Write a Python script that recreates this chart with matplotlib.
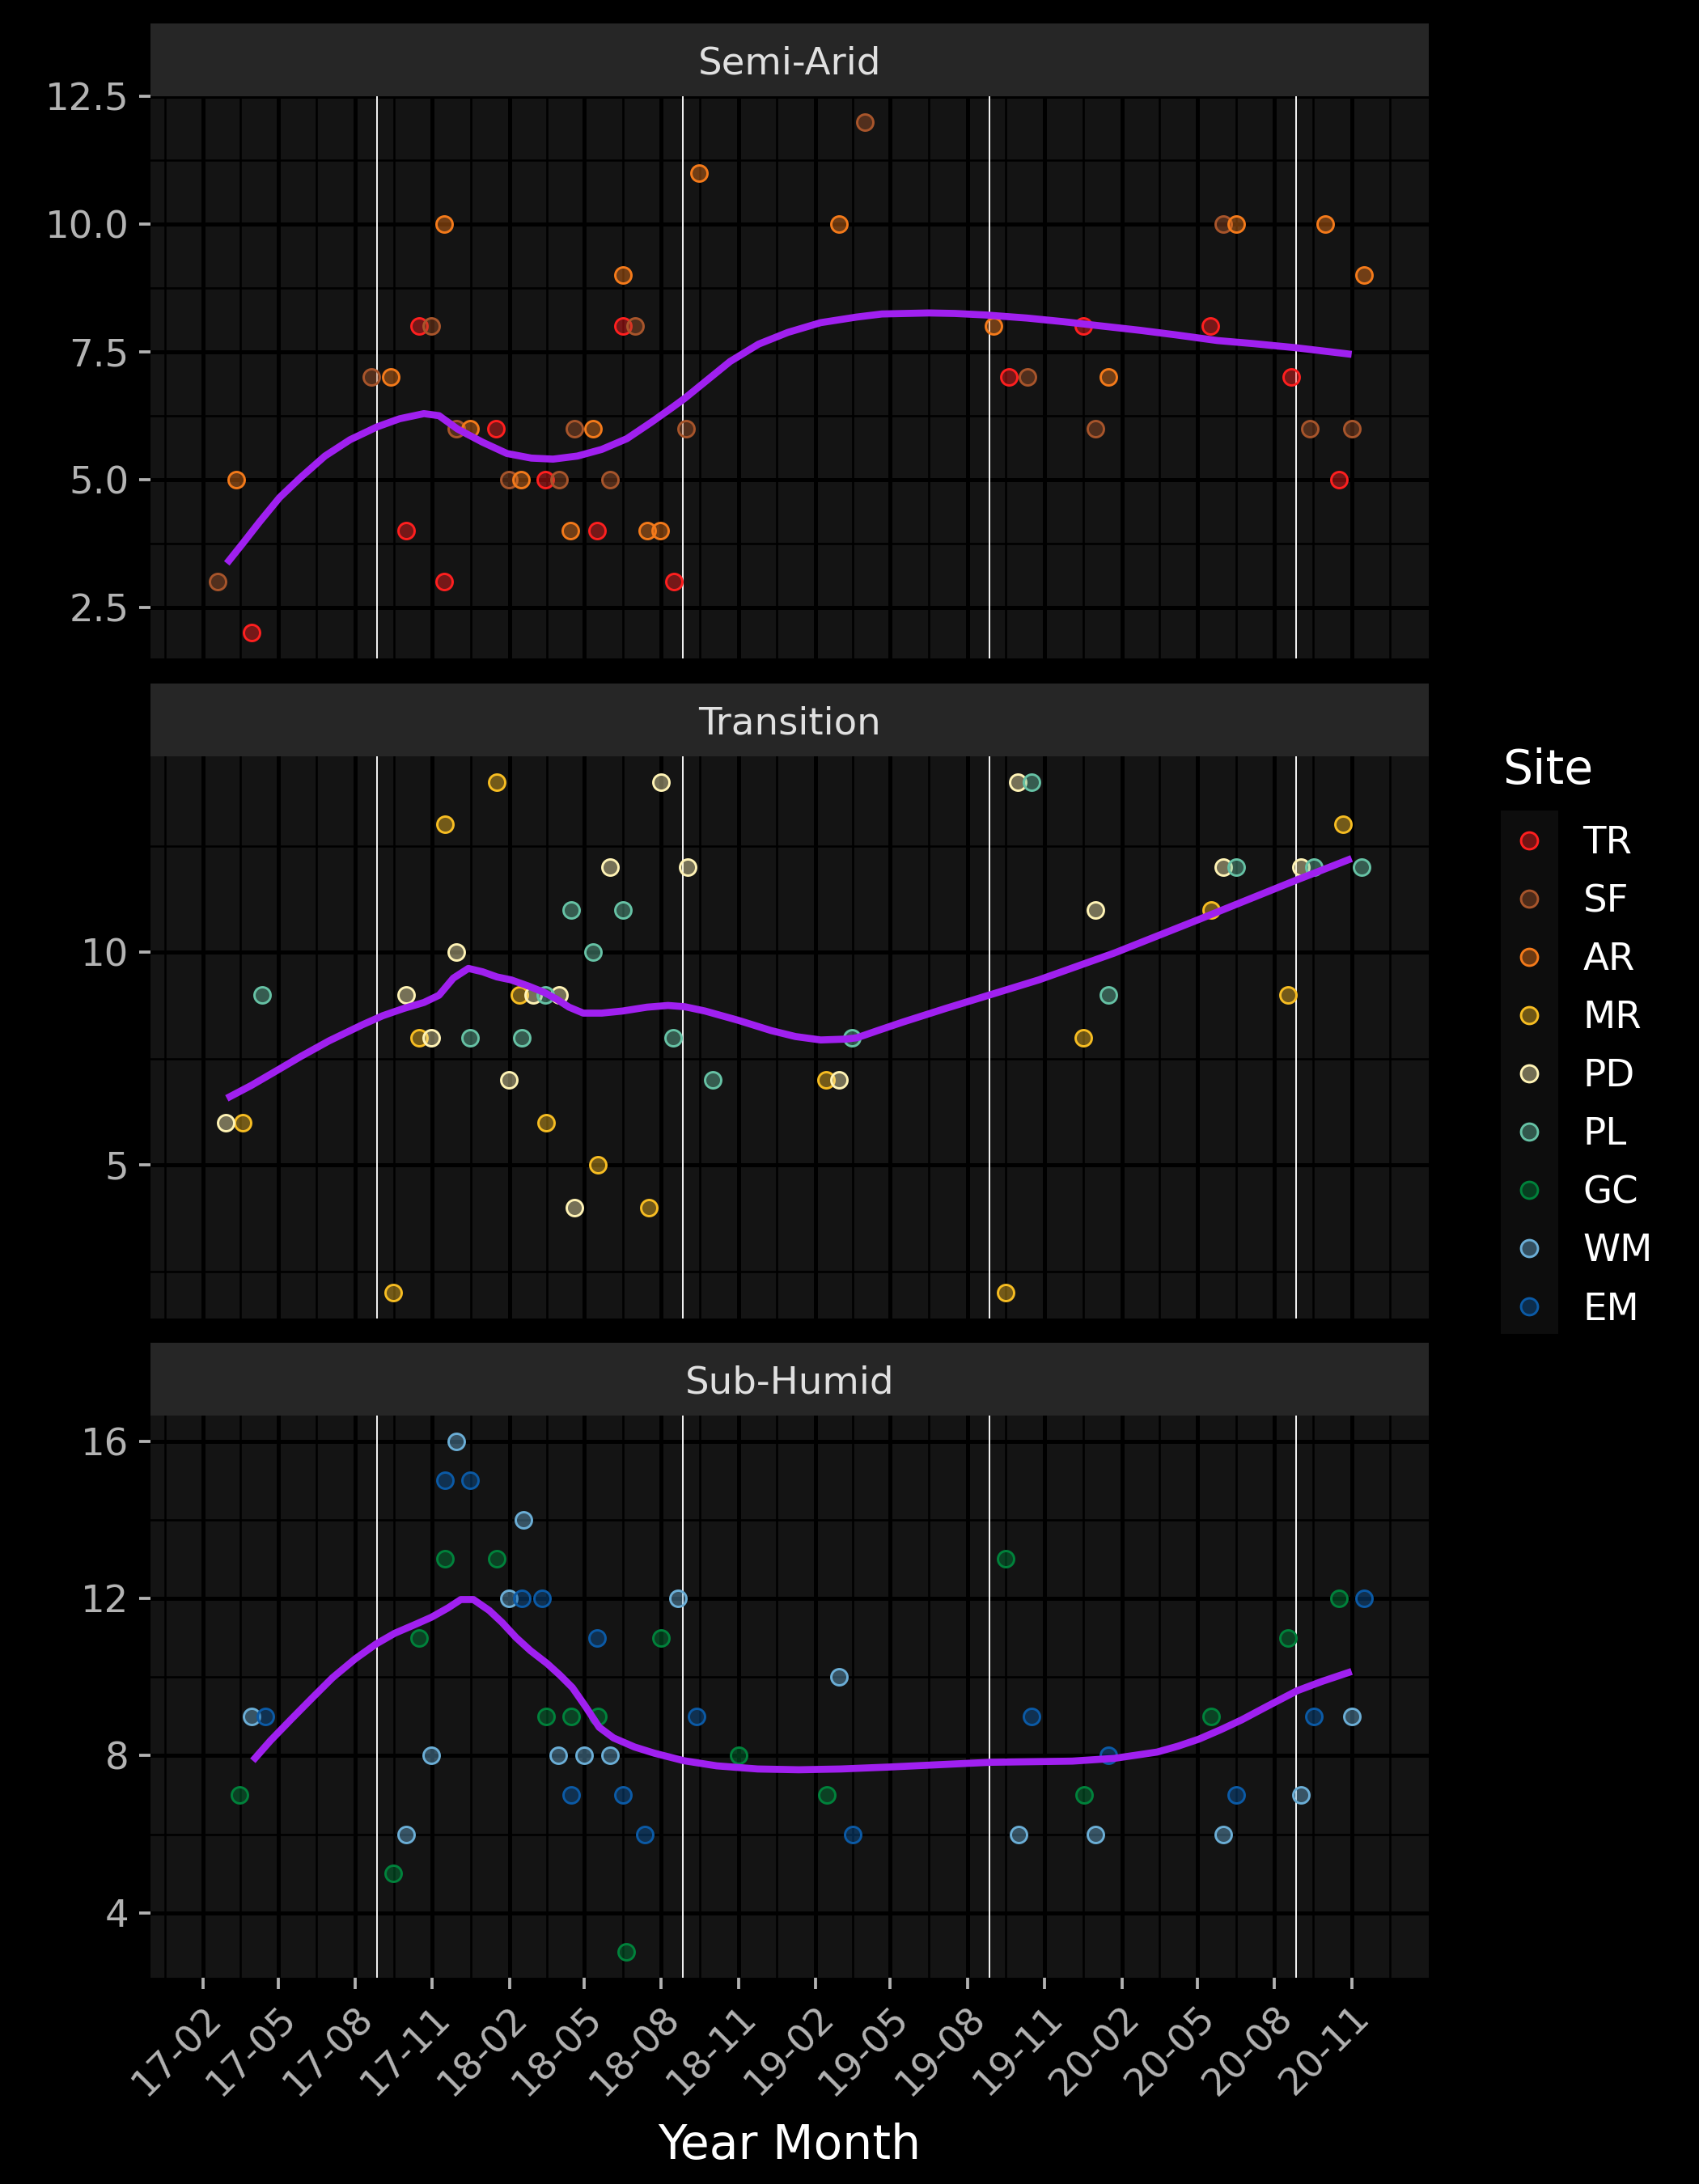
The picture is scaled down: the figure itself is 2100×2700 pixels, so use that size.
import pandas as pd
import matplotlib.pyplot as plt
from matplotlib.lines import Line2D
from matplotlib.patches import Rectangle
from matplotlib.colors import to_rgba

plt.rcParams['font.family'] = ['DejaVu Sans']

# sites (legend order) and their colours
sites = ['TR', 'SF', 'AR', 'MR', 'PD', 'PL', 'GC', 'WM', 'EM']
site_colors = ['#ff1f1f', '#a8552b', '#f47a1a', '#f7bd22', '#fff3b5',
               '#66c2a5', '#00823b', '#6baed6', '#0b5aa6']
regions = ['Semi-Arid', 'Transition', 'Sub-Humid']

# ---- Semi-Arid samples ----
semi_site = ['SF', 'AR', 'TR', 'SF', 'AR', 'TR', 'TR', 'SF', 'AR', 'TR',
             'SF', 'AR', 'TR', 'SF', 'AR', 'TR', 'SF', 'AR', 'SF', 'AR',
             'TR', 'SF', 'TR', 'AR', 'SF', 'AR', 'AR', 'TR', 'SF', 'AR',
             'AR', 'SF', 'AR', 'TR', 'SF', 'TR', 'SF', 'AR', 'TR', 'SF',
             'AR', 'TR', 'SF', 'AR', 'TR', 'SF', 'AR']
semi_date = ['2017-02-18', '2017-03-12', '2017-03-31', '2017-08-20', '2017-09-12',
             '2017-10-01', '2017-10-16', '2017-10-31', '2017-11-15', '2017-11-15',
             '2017-11-30', '2017-12-16', '2018-01-16', '2018-01-31', '2018-02-15',
             '2018-03-16', '2018-04-01', '2018-04-15', '2018-04-19', '2018-05-12',
             '2018-05-16', '2018-06-01', '2018-06-16', '2018-06-16', '2018-07-01',
             '2018-07-15', '2018-07-31', '2018-08-16', '2018-08-31', '2018-09-15',
             '2019-03-01', '2019-04-01', '2019-09-01', '2019-09-19', '2019-10-12',
             '2019-12-17', '2020-01-01', '2020-01-16', '2020-05-17', '2020-06-01',
             '2020-06-16', '2020-08-21', '2020-09-12', '2020-10-01', '2020-10-17',
             '2020-11-01', '2020-11-16']
semi_value = [3, 5, 2, 7, 7, 4, 8, 8, 10, 3,
              6, 6, 6, 5, 5, 5, 5, 4, 6, 6,
              4, 5, 8, 9, 8, 4, 4, 3, 6, 11,
              10, 12, 8, 7, 7, 8, 6, 7, 8, 10,
              10, 7, 6, 10, 5, 6, 9]
semi_smooth_date = ['2017-03-01', '2017-03-20', '2017-04-09', '2017-05-03', '2017-05-28',
                    '2017-06-26', '2017-07-26', '2017-08-27', '2017-09-23', '2017-10-22',
                    '2017-11-09', '2017-12-01', '2017-12-31', '2018-01-29', '2018-02-27',
                    '2018-03-25', '2018-04-23', '2018-05-22', '2018-06-21', '2018-07-20',
                    '2018-08-14', '2018-08-29', '2018-09-22', '2018-10-22', '2018-11-25',
                    '2018-12-30', '2019-02-07', '2019-03-22', '2019-04-21', '2019-06-16',
                    '2019-07-17', '2019-08-23', '2019-10-11', '2019-11-23', '2020-01-05',
                    '2020-02-23', '2020-04-06', '2020-05-25', '2020-07-07', '2020-08-26',
                    '2020-11-01']
semi_smooth_value = [3.36, 3.75, 4.17, 4.65, 5.04, 5.46, 5.78, 6.03, 6.19, 6.29,
                     6.25, 5.99, 5.73, 5.51, 5.42, 5.40, 5.46, 5.59, 5.80, 6.12,
                     6.41, 6.59, 6.91, 7.31, 7.65, 7.88, 8.07, 8.18, 8.24, 8.26,
                     8.25, 8.22, 8.16, 8.09, 8.01, 7.92, 7.83, 7.72, 7.66, 7.58,
                     7.45]

# ---- Transition samples ----
trans_site = ['PD', 'MR', 'PL', 'MR', 'PD', 'MR', 'PD', 'MR', 'PD', 'PL',
              'MR', 'PD', 'MR', 'PL', 'PD', 'PL', 'MR', 'PD', 'PL', 'PD',
              'PL', 'MR', 'PD', 'PL', 'MR', 'PD', 'PL', 'PD', 'PL', 'MR',
              'PD', 'PL', 'MR', 'PD', 'PL', 'MR', 'PD', 'PL', 'MR', 'PD',
              'PL', 'MR', 'PD', 'PL', 'MR', 'PL']
trans_date = ['2017-02-28', '2017-03-20', '2017-04-12', '2017-09-15', '2017-10-01',
              '2017-10-16', '2017-10-31', '2017-11-16', '2017-11-30', '2017-12-16',
              '2018-01-17', '2018-01-31', '2018-02-13', '2018-02-16', '2018-03-01',
              '2018-03-16', '2018-03-17', '2018-04-01', '2018-04-16', '2018-04-19',
              '2018-05-12', '2018-05-17', '2018-06-01', '2018-06-16', '2018-07-17',
              '2018-08-01', '2018-08-15', '2018-09-01', '2018-10-01', '2019-02-13',
              '2019-03-01', '2019-03-16', '2019-09-16', '2019-09-30', '2019-10-16',
              '2019-12-17', '2020-01-01', '2020-01-16', '2020-05-18', '2020-06-01',
              '2020-06-16', '2020-08-17', '2020-09-02', '2020-09-17', '2020-10-22',
              '2020-11-13']
trans_value = [6, 6, 9, 2, 9, 8, 8, 13, 10, 8,
               14, 7, 9, 8, 9, 9, 6, 9, 11, 4,
               10, 5, 12, 11, 4, 14, 8, 12, 7, 7,
               7, 8, 2, 14, 14, 8, 11, 9, 11, 12,
               12, 9, 12, 12, 13, 12]
trans_smooth_date = ['2017-03-01', '2017-03-30', '2017-05-03', '2017-05-28', '2017-07-01',
                     '2017-08-10', '2017-09-03', '2017-09-28', '2017-10-22', '2017-11-09',
                     '2017-11-26', '2017-12-14', '2017-12-31', '2018-01-17', '2018-02-03',
                     '2018-02-23', '2018-03-14', '2018-03-29', '2018-04-13', '2018-04-30',
                     '2018-05-22', '2018-06-16', '2018-07-15', '2018-08-09', '2018-08-29',
                     '2018-09-22', '2018-11-01', '2018-12-10', '2019-01-08', '2019-02-07',
                     '2019-03-09', '2019-03-22', '2019-04-16', '2019-05-16', '2019-07-06',
                     '2019-08-28', '2019-10-25', '2020-01-23', '2020-05-03', '2020-08-28',
                     '2020-11-01']
trans_smooth_value = [6.57, 6.87, 7.26, 7.55, 7.92, 8.30, 8.51, 8.68, 8.82, 8.99,
                      9.39, 9.62, 9.54, 9.42, 9.35, 9.21, 9.06, 8.90, 8.71, 8.57,
                      8.57, 8.62, 8.71, 8.75, 8.72, 8.62, 8.40, 8.16, 8.02, 7.94,
                      7.96, 7.99, 8.16, 8.36, 8.68, 9.00, 9.35, 9.98, 10.77, 11.70,
                      12.20]

# ---- Sub-Humid samples ----
sub_site = ['GC', 'WM', 'EM', 'GC', 'WM', 'GC', 'WM', 'GC', 'EM', 'WM',
            'EM', 'GC', 'WM', 'EM', 'WM', 'EM', 'GC', 'WM', 'EM', 'GC',
            'WM', 'EM', 'GC', 'WM', 'EM', 'GC', 'EM', 'GC', 'WM', 'EM',
            'GC', 'GC', 'WM', 'EM', 'GC', 'WM', 'EM', 'GC', 'WM', 'EM',
            'GC', 'WM', 'EM', 'GC', 'WM', 'EM', 'GC', 'WM', 'EM']
sub_date = ['2017-03-16', '2017-03-31', '2017-04-16', '2017-09-15', '2017-10-01',
            '2017-10-16', '2017-10-31', '2017-11-16', '2017-11-16', '2017-11-30',
            '2017-12-16', '2018-01-17', '2018-01-31', '2018-02-16', '2018-02-18',
            '2018-03-12', '2018-03-17', '2018-03-31', '2018-04-16', '2018-04-16',
            '2018-05-01', '2018-05-16', '2018-05-17', '2018-06-01', '2018-06-16',
            '2018-06-20', '2018-07-12', '2018-08-01', '2018-08-21', '2018-09-12',
            '2018-11-01', '2019-02-14', '2019-03-01', '2019-03-17', '2019-09-16',
            '2019-10-01', '2019-10-16', '2019-12-18', '2020-01-01', '2020-01-16',
            '2020-05-18', '2020-06-01', '2020-06-16', '2020-08-17', '2020-09-02',
            '2020-09-17', '2020-10-17', '2020-11-01', '2020-11-16']
sub_value = [7, 9, 9, 5, 6, 11, 8, 13, 15, 16,
             15, 13, 12, 12, 14, 12, 9, 8, 7, 9,
             8, 11, 9, 8, 7, 3, 6, 11, 12, 9,
             8, 7, 10, 6, 13, 6, 9, 7, 6, 8,
             9, 6, 7, 11, 7, 9, 12, 9, 12]
sub_smooth_date = ['2017-04-01', '2017-04-22', '2017-05-17', '2017-06-11', '2017-07-05',
                   '2017-08-01', '2017-08-26', '2017-09-17', '2017-10-12', '2017-10-31',
                   '2017-11-20', '2017-12-05', '2017-12-20', '2018-01-08', '2018-01-23',
                   '2018-02-09', '2018-02-26', '2018-03-18', '2018-04-02', '2018-04-17',
                   '2018-05-02', '2018-05-19', '2018-06-05', '2018-06-30', '2018-07-24',
                   '2018-08-28', '2018-10-06', '2018-11-24', '2019-01-12', '2019-03-03',
                   '2019-04-30', '2019-08-28', '2019-12-04', '2020-01-23', '2020-03-14',
                   '2020-04-08', '2020-05-03', '2020-05-29', '2020-06-23', '2020-07-23',
                   '2020-08-28', '2020-09-27', '2020-11-01']
sub_smooth_value = [7.87, 8.38, 8.93, 9.47, 9.98, 10.46, 10.84, 11.11, 11.34, 11.52,
                    11.76, 11.97, 11.97, 11.69, 11.39, 11.00, 10.67, 10.34, 10.05, 9.73,
                    9.27, 8.72, 8.45, 8.22, 8.06, 7.87, 7.74, 7.66, 7.64, 7.66,
                    7.71, 7.83, 7.86, 7.93, 8.09, 8.24, 8.42, 8.66, 8.91, 9.25,
                    9.65, 9.89, 10.14]

# season markers (white vertical lines)
season_dates = ['2017-08-27', '2018-08-27', '2019-08-27', '2020-08-27']

# y axis setup per facet
y_limits = [(1.5, 12.5), (1.4, 14.6), (2.35, 16.65)]
y_major = [[2.5, 5, 7.5, 10, 12.5], [5, 10], [4, 8, 12, 16]]
y_labels = [['2.5', '5.0', '7.5', '10.0', '12.5'], ['5', '10'], ['4', '8', '12', '16']]
y_minor = [[3.75, 6.25, 8.75, 11.25], [2.5, 7.5, 12.5], [6, 10, 14]]

color_of = dict(zip(sites, site_colors))
panels = [
    (semi_site, semi_date, semi_value, semi_smooth_date, semi_smooth_value),
    (trans_site, trans_date, trans_value, trans_smooth_date, trans_smooth_value),
    (sub_site, sub_date, sub_value, sub_smooth_date, sub_smooth_value),
]

x_major = pd.date_range('2017-02-01', '2020-11-01', freq='3MS')
x_all = pd.date_range('2016-11-01', '2021-02-01', freq='3MS')
x_minor = x_all[:-1] + (x_all[1:] - x_all[:-1]) / 2
x_lim = (pd.Timestamp('2016-11-30'), pd.Timestamp('2021-02-01'))

PANEL_BG = '#141414'
STRIP_BG = '#262626'
TICK_COL = '#b3b3b3'

W, H = 2100, 2700
fig = plt.figure(figsize=(7, 9), dpi=300, facecolor='black')
left = 186 / W
width = 1580 / W
panel_h = 695 / H
strip_h = 90 / H
tops = [119, 935, 1750]

for i, (site_l, date_l, val_l, sm_d, sm_v) in enumerate(panels):
    bottom = 1 - (tops[i] + 695) / H
    ax = fig.add_axes([left, bottom, width, panel_h])
    ax.set_facecolor(PANEL_BG)
    for s in ax.spines.values():
        s.set_visible(False)

    # gridlines
    ax.set_xlim(*x_lim)
    ax.set_ylim(*y_limits[i])
    ax.set_xticks(x_major)
    ax.set_xticks(x_minor, minor=True)
    ax.set_yticks(y_major[i])
    ax.set_yticklabels(y_labels[i])
    ax.set_yticks(y_minor[i], minor=True)
    ax.grid(which='major', color='black', linewidth=1.2, zorder=0)
    ax.grid(which='minor', color='black', linewidth=0.6, zorder=0)
    ax.set_axisbelow(True)

    for d in pd.to_datetime(season_dates):
        ax.axvline(d, color='white', linewidth=0.45, zorder=1)

    df = pd.DataFrame({'Site': site_l, 'Date': pd.to_datetime(date_l), 'Value': val_l})
    for site in sites:
        sub = df[df['Site'] == site]
        if sub.empty:
            continue
        c = color_of[site]
        ax.scatter(sub['Date'], sub['Value'], s=23, facecolors=[to_rgba(c, 0.42)],
                   edgecolors=[c], linewidths=0.7, zorder=3)

    ax.plot(pd.to_datetime(sm_d), sm_v, color='#a020f0', linewidth=2.1,
            solid_capstyle='butt', solid_joinstyle='round', zorder=4)

    ax.tick_params(axis='y', which='major', colors=TICK_COL, labelcolor=TICK_COL,
                   labelsize=11.2, length=3.4, width=0.9, pad=3)
    ax.tick_params(which='minor', length=0)
    if i < 2:
        ax.tick_params(axis='x', which='major', length=0, labelbottom=False)
    else:
        ax.set_xticklabels([d.strftime('%y-%m') for d in x_major])
        ax.tick_params(axis='x', which='major', colors=TICK_COL, labelcolor=TICK_COL,
                       labelsize=11.2, length=3.4, width=0.9, pad=3)
        plt.setp(ax.get_xticklabels(), rotation=45, ha='right', rotation_mode='anchor')
        ax.set_xlabel('Year Month', color='white', fontsize=14, labelpad=6)

    # facet strip
    sax = fig.add_axes([left, 1 - tops[i] / H, width, strip_h])
    sax.set_facecolor(STRIP_BG)
    sax.set_xticks([])
    sax.set_yticks([])
    for s in sax.spines.values():
        s.set_visible(False)
    sax.text(0.5, 0.445, regions[i], ha='center', va='center', color='#e0e0e0',
             fontsize=11.2, transform=sax.transAxes)

# legend
fig.patches.append(Rectangle((1855 / W, 1 - 1649 / H), 71 / W, 647 / H,
                             transform=fig.transFigure, facecolor='#0d0d0d',
                             edgecolor='none', zorder=0))
fig.text(1857 / W, 1 - 969 / H, 'Site', color='white', fontsize=14,
         ha='left', va='baseline')
handles = [Line2D([], [], linestyle='none', marker='o', markersize=5.0,
                  markerfacecolor=to_rgba(c, 0.42), markeredgecolor=c,
                  markeredgewidth=0.7) for c in site_colors]
leg = fig.legend(handles, sites, loc='upper left',
                 bbox_to_anchor=(1857 / W, 1 - 1020 / H), frameon=False,
                 fontsize=11.2, labelcolor='white',
                 handlelength=1.4, handletextpad=0.73,
                 labelspacing=0.58, borderpad=0, borderaxespad=0)

fig.savefig('out.png', dpi=300, facecolor='black')
